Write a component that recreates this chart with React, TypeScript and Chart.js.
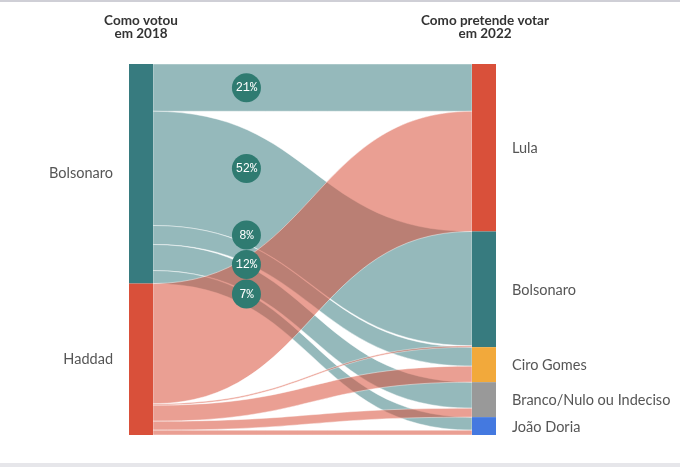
import React, { useEffect, useRef } from 'react';
import { Chart, registerables } from 'chart.js';

Chart.register(...registerables);

// ---- data ----
const sources = ['Bolsonaro', 'Haddad'];
const targets = ['Lula', 'Bolsonaro', 'Ciro Gomes', 'Branco/Nulo ou Indeciso', 'João Doria'];
const sourceColors = ['#377b7f', '#d9503a'];
const targetColors = ['#d9503a', '#377b7f', '#f2a93b', '#999999', '#4479e0'];
// flows (share of all respondents, %), in target order
const fromBolsonaro = [12.7, 30.7, 5.1, 7.0, 3.5];
const fromHaddad = [32.3, 0.4, 4.3, 2.4, 1.3];
const bolsonaroLabels = ['21%', '52%', '8%', '12%', '7%'];
const titleLeft = ['Como votou', 'em 2018'];
const titleRight = ['Como pretende votar', 'em 2022'];

const flows = [fromBolsonaro, fromHaddad];
const total = flows.reduce((s, f) => s + f.reduce((a, b) => a + b, 0), 0);

const NODE_W = 24;
const LABEL_X = 0.32;

function rgba(hex: string, a: number) {
  const n = parseInt(hex.slice(1), 16);
  return `rgba(${(n >> 16) & 255},${(n >> 8) & 255},${n & 255},${a})`;
}

const sankeyPlugin = {
  id: 'sankey',
  beforeDraw(chart: any) {
    const { ctx, width, height } = chart;
    ctx.save();
    ctx.fillStyle = '#ffffff';
    ctx.fillRect(0, 0, width, height);
    ctx.fillStyle = '#cfcfd6';
    ctx.fillRect(0, 0, width, 2);
    ctx.fillStyle = '#e6e6ea';
    ctx.fillRect(0, height - 4, width, 4);
    ctx.restore();
  },
  afterDatasetsDraw(chart: any) {
    const { ctx } = chart;
    const xs = chart.scales.x;
    const ys = chart.scales.y;
    const xL = xs.getPixelForValue(0);
    const xR = xs.getPixelForValue(1);
    const Y = (v: number) => ys.getPixelForValue(v);

    const srcTotals = flows.map((f) => f.reduce((a, b) => a + b, 0));
    const tgtTotals = targets.map((_, j) => flows.reduce((s, f) => s + f[j], 0));
    const srcStart: number[] = [];
    let acc = 0;
    srcTotals.forEach((t, i) => { srcStart[i] = acc; acc += t; });
    const tgtStart: number[] = [];
    acc = 0;
    tgtTotals.forEach((t, i) => { tgtStart[i] = acc; acc += t; });

    const outOff = srcStart.slice();
    const inOff = tgtStart.slice();
    const links: any[] = [];
    flows.forEach((f, s) => {
      f.forEach((v, t) => {
        links.push({ s, t, v, a0: outOff[s], a1: inOff[t] });
        outOff[s] += v;
        inOff[t] += v;
      });
    });

    const x0 = xL + NODE_W;
    const x1 = xR - NODE_W;
    const xm = (x0 + x1) / 2;

    ctx.save();
    links.forEach((l) => {
      const ya0 = Y(l.a0), yb0 = Y(l.a0 + l.v);
      const ya1 = Y(l.a1), yb1 = Y(l.a1 + l.v);
      ctx.beginPath();
      ctx.moveTo(x0, ya0);
      ctx.bezierCurveTo(xm, ya0, xm, ya1, x1, ya1);
      ctx.lineTo(x1, yb1);
      ctx.bezierCurveTo(xm, yb1, xm, yb0, x0, yb0);
      ctx.closePath();
      ctx.fillStyle = rgba(sourceColors[l.s], l.s === 0 ? 0.53 : 0.55);
      ctx.fill();
      ctx.strokeStyle = 'rgba(255,255,255,0.55)';
      ctx.lineWidth = 0.8;
      ctx.stroke();
    });

    // nodes
    sources.forEach((_, i) => {
      ctx.fillStyle = sourceColors[i];
      ctx.fillRect(xL, Y(srcStart[i]), NODE_W, Y(srcStart[i] + srcTotals[i]) - Y(srcStart[i]));
    });
    targets.forEach((_, i) => {
      ctx.fillStyle = targetColors[i];
      ctx.fillRect(xR - NODE_W, Y(tgtStart[i]), NODE_W, Y(tgtStart[i] + tgtTotals[i]) - Y(tgtStart[i]));
    });

    // node labels
    ctx.font = '14.5px Lato, "Noto Sans", sans-serif';
    ctx.fillStyle = '#555555';
    ctx.textBaseline = 'middle';
    ctx.textAlign = 'right';
    sources.forEach((name, i) => {
      ctx.fillText(name, xL - 16, (Y(srcStart[i]) + Y(srcStart[i] + srcTotals[i])) / 2);
    });
    ctx.textAlign = 'left';
    targets.forEach((name, i) => {
      ctx.fillText(name, xR + 16, (Y(tgtStart[i]) + Y(tgtStart[i] + tgtTotals[i])) / 2 + 1);
    });

    // titles
    ctx.font = 'bold 13.5px Lato, "Noto Sans", sans-serif';
    ctx.fillStyle = '#333333';
    ctx.textAlign = 'center';
    const cL = xL + NODE_W / 2;
    const cR = xR - NODE_W / 2;
    titleLeft.forEach((t, i) => ctx.fillText(t, cL, 21 + i * 13));
    titleRight.forEach((t, i) => ctx.fillText(t, cR + 1, 21 + i * 13));

    // percentage bubbles
    const lx = xs.getPixelForValue(LABEL_X);
    let prev = -Infinity;
    const r = 14.5;
    links.filter((l) => l.s === 0).forEach((l, i) => {
      let cy = (Y(l.a0) + Y(l.a0 + l.v)) / 2;
      if (cy < prev + 29.5) cy = prev + 29.5;
      prev = cy;
      ctx.beginPath();
      ctx.arc(lx, cy, r, 0, Math.PI * 2);
      ctx.fillStyle = '#2f7b71';
      ctx.fill();
      ctx.fillStyle = '#ffffff';
      ctx.font = '12px "Liberation Mono", "DejaVu Sans Mono", monospace';
      ctx.textAlign = 'center';
      ctx.textBaseline = 'middle';
      ctx.fillText(bolsonaroLabels[i], lx, cy + 0.5);
    });
    ctx.restore();
  },
};

export default function App() {
  const ref = useRef<HTMLCanvasElement>(null);
  useEffect(() => {
    if (!ref.current) return;
    const chart = new Chart(ref.current, {
      type: 'scatter',
      data: { datasets: [{ data: [] }] },
      options: {
        animation: false,
        responsive: false,
        maintainAspectRatio: false,
        devicePixelRatio: 1,
        layout: { padding: { left: 129, right: 184, top: 64, bottom: 32 } },
        scales: {
          x: { type: 'linear', min: 0, max: 1, display: false },
          y: { type: 'linear', min: 0, max: total, reverse: true, display: false },
        },
        plugins: { legend: { display: false }, tooltip: { enabled: false }, title: { display: false } },
      },
      plugins: [sankeyPlugin],
    } as any);
    return () => chart.destroy();
  }, []);
  return (
    <div style={{ position: 'fixed', left: 0, top: 0, width: 680, height: 467, background: '#fff' }}>
      <canvas ref={ref} width={680} height={467} style={{ display: 'block' }} />
    </div>
  );
}
